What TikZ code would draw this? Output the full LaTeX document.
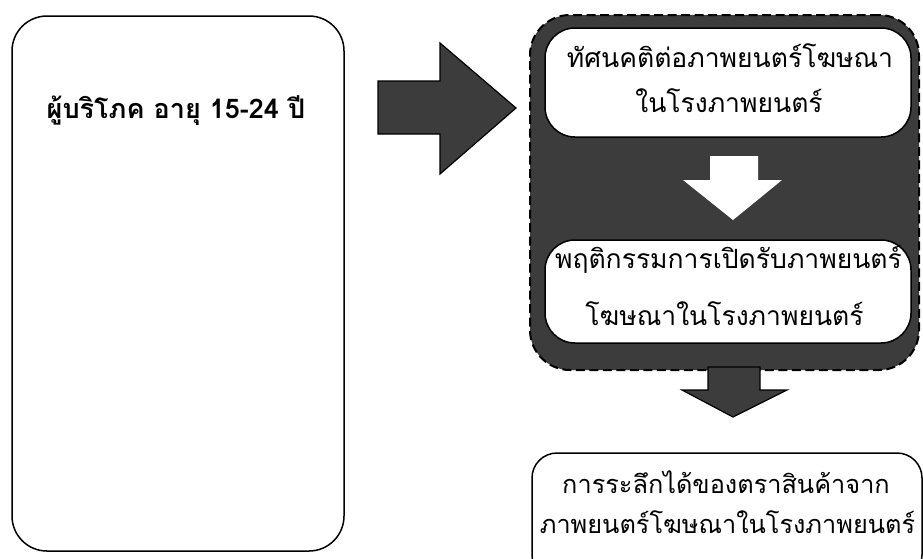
\documentclass[tikz,border=0pt]{standalone}
\usepackage{fontspec}
\newfontfamily\thai[Script=Thai]{Loma}
\definecolor{dark}{RGB}{60,60,60}
\tikzset{
  box/.style={draw=black, line width=1.5pt, rounded corners=#1, fill=white, inner sep=0pt},
  txt/.style={font=\thai\fontsize{26.5}{30}\selectfont, anchor=base, inner sep=0pt},
  smalltxt/.style={font=\thai\fontsize{25.3}{30}\selectfont, anchor=base, inner sep=0pt},
  blockarrow/.style={draw=black, line width=1.2pt, line join=miter},
}
\begin{document}
\begin{tikzpicture}[x=1pt,y=-1pt]
\clip (0,0) rectangle (923,558);
\fill[white] (0,0) rectangle (923,558);
% left box
\node[box=35pt, minimum width=332pt, minimum height=535pt] (consumer) at (178,283.5) {};
\node[txt, font=\thai\bfseries\fontsize{27}{30}\selectfont] (consumertxt) at (176,118) {ผู้บริโภค อายุ 15-24 ปี};
% big right arrow
\draw[blockarrow, fill=dark] (378,81) -- (440,81) -- (440,43) -- (516,108) -- (440,174) -- (440,134) -- (378,134) -- cycle;
% dashed group
\node[draw=black, fill=dark, dash pattern=on 9pt off 4.5pt, line width=2pt, rounded corners=40pt,
      minimum width=389pt, minimum height=355pt, inner sep=0pt] (group) at (724.5,192.5) {};
% top white box
\node[box=30pt, minimum width=366pt, minimum height=109pt] (attitude) at (728,82.5) {};
\node[txt] (att1) at (730,67) {ทัศนคติต่อภาพยนตร์โฆษณา};
\node[txt] (att2) at (729,112) {ในโรงภาพยนตร์};
% white arrow
\fill[white] (710,156) -- (758,156) -- (758,180) -- (782,180) -- (733,220) -- (683,180) -- (710,180) -- cycle;
% second white box
\node[box=30pt, minimum width=366pt, minimum height=103pt] (behaviour) at (728,291.5) {};
\node[txt] (beh1) at (728.5,268) {พฤติกรรมการเปิดรับภาพยนตร์};
\node[txt] (beh2) at (724.5,325) {โฆษณาในโรงภาพยนตร์};
% dark down arrow
\draw[blockarrow, fill=dark] (708,367) -- (760,367) -- (760,390) -- (787,390) -- (733,417) -- (682,390) -- (708,390) -- cycle;
% bottom box
\node[box=25pt, minimum width=390pt, minimum height=127pt] (recall) at (727,516.5) {};
\node[smalltxt] (rec1) at (726,493) {การระลึกได้ของตราสินค้าจาก};
\node[smalltxt] (rec2) at (727.5,533) {ภาพยนตร์โฆษณาในโรงภาพยนตร์};
\end{tikzpicture}
\end{document}
